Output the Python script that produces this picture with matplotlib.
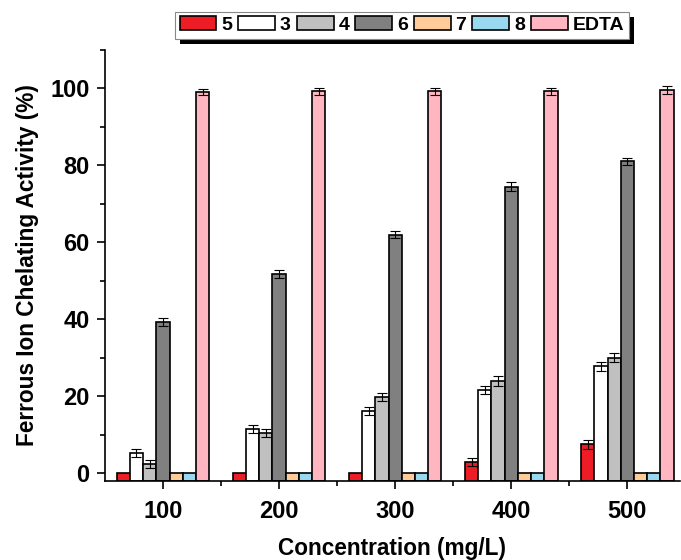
import numpy as np
import matplotlib
matplotlib.use("Agg")
import matplotlib.pyplot as plt
from matplotlib.patches import Rectangle

plt.rcParams['font.family'] = ['Liberation Sans', 'DejaVu Sans']
plt.rcParams['font.weight'] = 'bold'

concentrations = ['100', '200', '300', '400', '500']
series = ['5', '3', '4', '6', '7', '8', 'EDTA']
colors = ['#ee1c25', '#ffffff', '#c0c0c0', '#808080', '#ffcc99', '#99d9f0', '#ffb6c1']

values = {
    '5':    [0.0, 0.0, 0.0, 3.0, 7.5],
    '3':    [5.2, 11.6, 16.2, 21.7, 27.8],
    '4':    [2.4, 10.4, 19.9, 24.0, 30.0],
    '6':    [39.3, 51.7, 62.0, 74.5, 81.0],
    '7':    [0.0, 0.0, 0.0, 0.0, 0.0],
    '8':    [0.0, 0.0, 0.0, 0.0, 0.0],
    'EDTA': [99.0, 99.2, 99.2, 99.2, 99.5],
}
errors = {
    '5':    [0.0, 0.0, 0.0, 1.0, 1.2],
    '3':    [1.0, 1.0, 1.0, 1.0, 1.2],
    '4':    [1.0, 1.0, 1.0, 1.2, 1.2],
    '6':    [1.0, 1.0, 1.0, 1.2, 1.0],
    '7':    [0.0, 0.0, 0.0, 0.0, 0.0],
    '8':    [0.0, 0.0, 0.0, 0.0, 0.0],
    'EDTA': [0.8, 0.8, 0.8, 1.0, 1.0],
}

ymin = -2
fig = plt.figure(figsize=(6.81, 5.6), dpi=100)
ax = fig.add_axes([0.154, 0.141, 0.844, 0.77])

x = np.arange(1, len(concentrations) + 1)
width = 0.114
for i, (name, col) in enumerate(zip(series, colors)):
    pos = x + (i - 3) * width
    v = np.array(values[name])
    ax.bar(pos, v - ymin, width, bottom=ymin, color=col, edgecolor='black',
           linewidth=1.2, label=name, zorder=2)
    err = np.array(errors[name])
    m = err > 0
    if m.any():
        ax.errorbar(pos[m], v[m], yerr=err[m], fmt='none', ecolor='black',
                    elinewidth=0.8, capsize=3.5, capthick=0.8, zorder=3)

ax.set_xlim(0.5, 5.45)
ax.set_ylim(ymin, 110)
ax.set_xticks(x)
ax.set_xticklabels(concentrations)
ax.set_xticks(x[:-1] + 0.5, minor=True)
ax.set_yticks(np.arange(0, 101, 20))
ax.set_yticks(np.arange(10, 111, 20), minor=True)
for s in ['top', 'right']:
    ax.spines[s].set_visible(False)
for s in ['left', 'bottom']:
    ax.spines[s].set_linewidth(1.2)
ax.tick_params(axis='both', which='major', direction='out', length=6, width=1.2,
               labelsize=17, pad=5)
ax.tick_params(axis='both', which='minor', direction='out', length=3.5, width=1.2)
ax.tick_params(axis='x', which='major', pad=8)
ax.set_xlabel('Concentration (mg/L)', fontsize=16.3, fontweight='bold', labelpad=10)
ax.set_ylabel('Ferrous Ion Chelating Activity (%)', fontsize=16.3, fontweight='bold', labelpad=8)

leg = fig.legend(loc='center', bbox_to_anchor=(0.59, 0.955), ncol=7, frameon=True,
                 fancybox=False, edgecolor='#888888', framealpha=1,
                 prop={'size': 14, 'weight': 'bold'},
                 handlelength=1.9, handleheight=0.7, handletextpad=0.25,
                 columnspacing=0.3, borderpad=0.25, borderaxespad=0)
leg.get_frame().set_linewidth(0.8)
leg.set_zorder(5)

fig.canvas.draw()
bb = leg.get_window_extent().transformed(fig.transFigure.inverted())
dx, dy = 5 / 681, 5 / 560
fig.patches.append(Rectangle((bb.x0 + dx, bb.y0 - dy), bb.width, bb.height,
                             transform=fig.transFigure, facecolor='black',
                             edgecolor='none', zorder=4))

fig.savefig('out.png', dpi=100)
